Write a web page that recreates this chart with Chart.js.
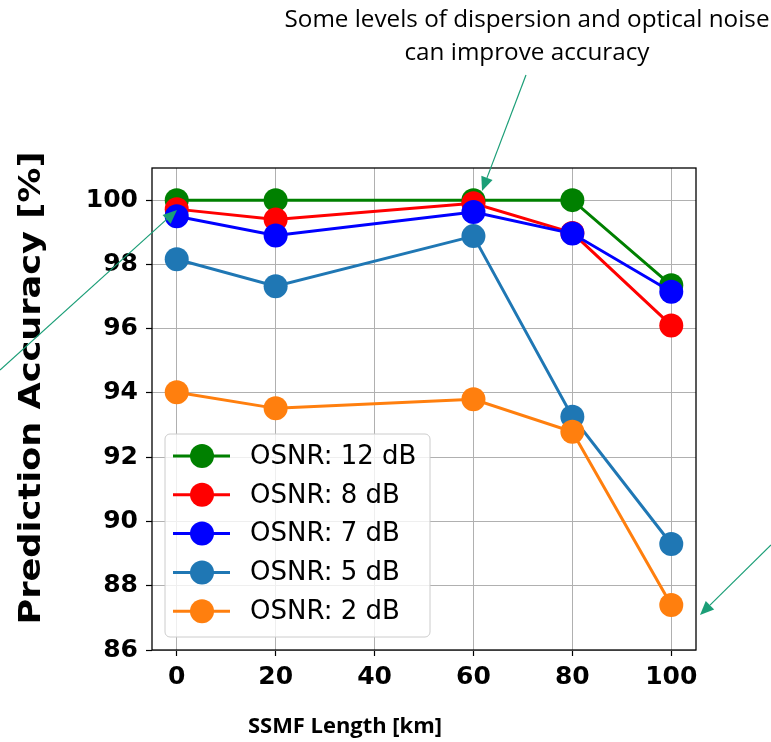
<!DOCTYPE html>
<html>
<head>
<meta charset="utf-8">
<script src="https://cdn.jsdelivr.net/npm/chart.js@4.4.1/dist/chart.umd.min.js"></script>
<style>
  html, body { margin: 0; padding: 0; background: #fff; }
  #wrap { width: 771px; height: 742px; }
</style>
</head>
<body>
<div id="wrap"><canvas id="chart"></canvas></div>
<script>
// Data
const lengthsKm = [0, 20, 60, 80, 100];
const osnr12 = [100, 100, 100, 100, 97.35];
const osnr8 = [99.72, 99.4, 99.9, 98.98, 96.1];
const osnr7 = [99.5, 98.9, 99.63, 98.96, 97.15];
const osnr5 = [98.16, 97.32, 98.88, 93.26, 89.3];
const osnr2 = [94.02, 93.52, 93.8, 92.79, 87.4];
const seriesLabels = ['OSNR: 12 dB', 'OSNR: 8 dB', 'OSNR: 7 dB', 'OSNR: 5 dB', 'OSNR: 2 dB'];
const seriesColors = ['#008000', '#ff0000', '#0000ff', '#1f77b4', '#ff7f0e'];
const xTicks = [0, 20, 40, 60, 80, 100];
const yTicks = [86, 88, 90, 92, 94, 96, 98, 100];
const noteLines = ['Some levels of dispersion and optical noise', 'can improve accuracy'];

const ARROW = '#1b9e77';

// Build datasets
const allSeries = [osnr12, osnr8, osnr7, osnr5, osnr2];
const datasets = allSeries.map((vals, i) => ({
  label: seriesLabels[i],
  data: lengthsKm.map((x, j) => ({ x: x, y: vals[j] })),
  borderColor: seriesColors[i],
  backgroundColor: seriesColors[i],
  pointBackgroundColor: seriesColors[i],
  pointBorderWidth: 0,
  pointRadius: 12,
  pointHoverRadius: 12,
  borderWidth: 3,
  tension: 0,
  clip: false,
  order: allSeries.length - i
}));

// Arrow helper
function drawArrow(ctx, x1, y1, x2, y2) {
  const ang = Math.atan2(y2 - y1, x2 - x1);
  const len = 14, half = 6;
  ctx.save();
  ctx.strokeStyle = ARROW;
  ctx.fillStyle = ARROW;
  ctx.lineWidth = 1.2;
  ctx.beginPath();
  ctx.moveTo(x1, y1);
  ctx.lineTo(x2 - Math.cos(ang) * len, y2 - Math.sin(ang) * len);
  ctx.stroke();
  ctx.beginPath();
  ctx.moveTo(x2, y2);
  ctx.lineTo(x2 - Math.cos(ang) * len - Math.sin(ang) * half, y2 - Math.sin(ang) * len + Math.cos(ang) * half);
  ctx.lineTo(x2 - Math.cos(ang) * len + Math.sin(ang) * half, y2 - Math.sin(ang) * len - Math.cos(ang) * half);
  ctx.closePath();
  ctx.fill();
  ctx.restore();
}

// Text squeezed/stretched to a target width (the figure text is a bit condensed)
function fitText(ctx, text, x, y, targetW) {
  const w = ctx.measureText(text).width;
  ctx.save();
  ctx.translate(x, y);
  ctx.scale(targetW / w, 1);
  ctx.fillText(text, 0, 0);
  ctx.restore();
}

// Extras: frame, legend, titles, notes
const extras = {
  id: 'extras',
  afterDraw(chart) {
    const ctx = chart.ctx;
    const a = chart.chartArea;

    // Frame
    ctx.save();
    ctx.strokeStyle = '#000';
    ctx.lineWidth = 1.3;
    ctx.strokeRect(a.left, a.top, a.right - a.left, a.bottom - a.top);
    ctx.restore();

    // Legend inside plot
    const lx = a.left + 13, ly = 434, lw = 265, lh = 203;
    ctx.save();
    ctx.fillStyle = 'rgba(255,255,255,0.8)';
    ctx.strokeStyle = '#cccccc';
    ctx.lineWidth = 1;
    ctx.beginPath();
    ctx.roundRect(lx, ly, lw, lh, 5);
    ctx.fill();
    ctx.stroke();
    ctx.font = '26px "DejaVu Sans"';
    ctx.textBaseline = 'middle';
    chart.data.datasets.forEach((ds, i) => {
      const cy = 456 + i * 38.8;
      ctx.strokeStyle = ds.borderColor;
      ctx.lineWidth = 3;
      ctx.beginPath();
      ctx.moveTo(lx + 8, cy);
      ctx.lineTo(lx + 65, cy);
      ctx.stroke();
      ctx.fillStyle = ds.borderColor;
      ctx.beginPath();
      ctx.arc(lx + 37, cy, 12, 0, Math.PI * 2);
      ctx.fill();
      ctx.fillStyle = '#000';
      ctx.fillText(ds.label, lx + 85, cy + 1);
    });
    ctx.restore();

    // Axis titles
    ctx.save();
    ctx.fillStyle = '#000';
    ctx.font = 'bold 31px "DejaVu Sans"';
    ctx.textAlign = 'center';
    ctx.textBaseline = 'middle';
    ctx.translate(32, 388);
    ctx.rotate(-Math.PI / 2);
    fitText(ctx, 'Prediction Accuracy [%]', 0, 0, 473);
    ctx.restore();

    ctx.save();
    ctx.fillStyle = '#000';
    ctx.font = 'bold 22px "Open Sans"';
    ctx.textAlign = 'center';
    ctx.textBaseline = 'middle';
    fitText(ctx, 'SSMF Length [km]', 345, 727, 194);
    ctx.restore();

    // Note text
    ctx.save();
    ctx.fillStyle = '#000';
    ctx.font = '24px "Open Sans"';
    ctx.textAlign = 'center';
    ctx.textBaseline = 'middle';
    fitText(ctx, noteLines[0], 527, 20, 485);
    fitText(ctx, noteLines[1], 527, 53, 245);
    ctx.restore();

    // Arrows
    drawArrow(ctx, 526, 75, 482, 191);
    drawArrow(ctx, 0, 370, 177, 210);
    drawArrow(ctx, 771, 545, 700, 615);
  }
};

new Chart(document.getElementById('chart'), {
  type: 'line',
  data: { datasets: datasets },
  options: {
    responsive: true,
    maintainAspectRatio: false,
    animation: false,
    events: [],
    layout: { padding: { top: 168, right: 75, left: 0, bottom: 0 } },
    plugins: { legend: { display: false }, tooltip: { enabled: false } },
    scales: {
      x: {
        type: 'linear',
        min: -5,
        max: 105,
        afterFit(scale) { scale.height = 92; },
        afterBuildTicks(scale) { scale.ticks = xTicks.map(v => ({ value: v })); },
        grid: { color: '#b0b0b0', lineWidth: 1, tickColor: '#000', tickLength: 6, tickWidth: 1.2 },
        border: { display: false },
        ticks: {
          color: '#000',
          padding: 6,
          maxRotation: 0,
          font: { family: 'DejaVu Sans', size: 25, weight: 'bold' }
        }
      },
      y: {
        min: 86,
        max: 101,
        afterFit(scale) { scale.width = 152; },
        afterBuildTicks(scale) { scale.ticks = yTicks.map(v => ({ value: v })); },
        grid: { color: '#b0b0b0', lineWidth: 1, tickColor: '#000', tickLength: 6, tickWidth: 1.2 },
        border: { display: false },
        ticks: {
          color: '#000',
          padding: 8,
          font: { family: 'DejaVu Sans', size: 25, weight: 'bold' }
        }
      }
    }
  },
  plugins: [extras]
});
</script>
</body>
</html>
